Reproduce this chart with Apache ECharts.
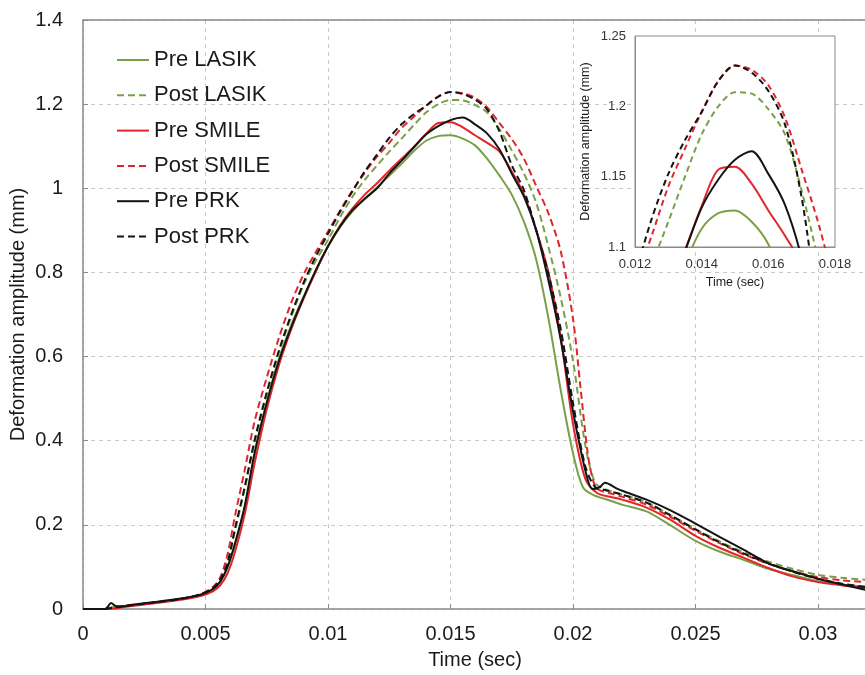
<!DOCTYPE html>
<html><head><meta charset="utf-8">
<script src="https://cdn.jsdelivr.net/npm/echarts@6/dist/echarts.min.js"></script>
<style>html,body{margin:0;padding:0;background:#fff}#c{width:865px;height:675px}</style>
</head><body><div id="c"></div>
<script>
// ---------- data ----------
const seriesNames = ['Pre LASIK', 'Post LASIK', 'Pre SMILE', 'Post SMILE', 'Pre PRK', 'Post PRK'];
const xAxisName = 'Time (sec)';
const yAxisName = 'Deformation amplitude (mm)';

const preLasik = [[0,0],[0.0009,0],[0.0012,0.004],[0.002,0.009],[0.003,0.016],[0.004,0.024],[0.0048,0.034],[0.0053,0.048],[0.0056,0.065],[0.0059,0.1],[0.0062,0.152],[0.0066,0.24],[0.007,0.365],[0.0075,0.49],[0.008,0.595],[0.0085,0.675],[0.009,0.742],[0.0095,0.805],[0.01,0.862],[0.0105,0.908],[0.011,0.945],[0.0115,0.975],[0.012,1.002],[0.0125,1.03],[0.013,1.058],[0.0135,1.088],[0.014,1.113],[0.0145,1.124],[0.015,1.126],[0.0155,1.118],[0.016,1.102],[0.0165,1.07],[0.017,1.03],[0.0175,0.985],[0.018,0.92],[0.0185,0.83],[0.019,0.69],[0.0195,0.52],[0.02,0.37],[0.0204,0.29],[0.0208,0.272],[0.0215,0.258],[0.022,0.248],[0.023,0.232],[0.024,0.198],[0.025,0.162],[0.026,0.136],[0.027,0.116],[0.028,0.095],[0.029,0.08],[0.03,0.066],[0.031,0.058],[0.032,0.052]];

const postLasik = [[0,0],[0.0009,0],[0.0012,0.003],[0.002,0.009],[0.003,0.016],[0.004,0.024],[0.0048,0.035],[0.0053,0.05],[0.0056,0.07],[0.0059,0.11],[0.0062,0.185],[0.0066,0.285],[0.007,0.395],[0.0075,0.51],[0.008,0.61],[0.0085,0.695],[0.009,0.77],[0.0095,0.828],[0.01,0.877],[0.0105,0.932],[0.011,0.98],[0.0115,1.02],[0.012,1.054],[0.0125,1.087],[0.013,1.118],[0.0135,1.15],[0.014,1.18],[0.0145,1.2],[0.015,1.21],[0.0155,1.209],[0.016,1.198],[0.0165,1.18],[0.017,1.14],[0.0175,1.09],[0.018,1.035],[0.0185,0.965],[0.019,0.86],[0.0195,0.74],[0.02,0.59],[0.0205,0.39],[0.0209,0.3],[0.0213,0.285],[0.022,0.272],[0.023,0.253],[0.024,0.222],[0.025,0.19],[0.026,0.16],[0.027,0.134],[0.028,0.112],[0.029,0.095],[0.03,0.081],[0.031,0.074],[0.032,0.069]];

const preSmile = [[0,0],[0.001,0],[0.0015,0.003],[0.002,0.007],[0.003,0.014],[0.004,0.022],[0.0048,0.031],[0.0053,0.042],[0.0056,0.056],[0.0059,0.085],[0.0062,0.135],[0.0066,0.225],[0.007,0.345],[0.0075,0.475],[0.008,0.58],[0.0085,0.665],[0.009,0.737],[0.0095,0.802],[0.01,0.862],[0.0105,0.912],[0.011,0.952],[0.0115,0.985],[0.012,1.012],[0.0125,1.042],[0.013,1.07],[0.0135,1.098],[0.014,1.129],[0.0145,1.155],[0.015,1.157],[0.0155,1.145],[0.016,1.126],[0.0165,1.108],[0.017,1.087],[0.0175,1.04],[0.018,0.985],[0.0185,0.9],[0.019,0.8],[0.0195,0.645],[0.02,0.44],[0.0205,0.31],[0.021,0.275],[0.0215,0.267],[0.022,0.26],[0.023,0.241],[0.024,0.211],[0.025,0.174],[0.026,0.145],[0.027,0.121],[0.028,0.097],[0.029,0.077],[0.03,0.064],[0.031,0.056],[0.032,0.05]];

const postSmile = [[0,0],[0.0009,0],[0.0012,0.003],[0.002,0.009],[0.003,0.016],[0.004,0.024],[0.0048,0.035],[0.0053,0.052],[0.0056,0.075],[0.0059,0.13],[0.0062,0.22],[0.0066,0.33],[0.007,0.445],[0.0075,0.55],[0.008,0.645],[0.0085,0.728],[0.009,0.795],[0.0095,0.848],[0.01,0.897],[0.0105,0.948],[0.011,0.995],[0.0115,1.037],[0.012,1.075],[0.0125,1.108],[0.013,1.143],[0.0135,1.17],[0.014,1.196],[0.0145,1.218],[0.015,1.229],[0.0155,1.226],[0.016,1.215],[0.0165,1.192],[0.017,1.155],[0.0175,1.117],[0.018,1.07],[0.0185,1.005],[0.019,0.94],[0.0195,0.85],[0.02,0.69],[0.0203,0.53],[0.0206,0.37],[0.0208,0.31],[0.021,0.285],[0.0215,0.275],[0.022,0.267],[0.023,0.248],[0.024,0.218],[0.025,0.186],[0.026,0.156],[0.027,0.129],[0.028,0.107],[0.029,0.089],[0.03,0.076],[0.031,0.068],[0.032,0.064]];

const prePrk = [[0,0],[0.0009,0],[0.00115,0.014],[0.0013,0.008],[0.0015,0.006],[0.002,0.01],[0.003,0.017],[0.004,0.025],[0.0048,0.034],[0.0053,0.047],[0.0056,0.065],[0.0059,0.1],[0.0062,0.155],[0.0066,0.245],[0.007,0.37],[0.0075,0.49],[0.008,0.59],[0.0085,0.67],[0.009,0.74],[0.0095,0.805],[0.01,0.862],[0.0105,0.91],[0.011,0.948],[0.0115,0.975],[0.012,1.0],[0.0125,1.035],[0.013,1.065],[0.0135,1.097],[0.014,1.128],[0.0145,1.148],[0.015,1.162],[0.0155,1.168],[0.016,1.152],[0.0165,1.13],[0.017,1.092],[0.0175,1.035],[0.018,0.98],[0.0185,0.9],[0.019,0.78],[0.0195,0.64],[0.02,0.47],[0.0205,0.33],[0.0208,0.285],[0.0211,0.29],[0.0213,0.3],[0.0218,0.286],[0.022,0.281],[0.023,0.26],[0.024,0.234],[0.025,0.203],[0.026,0.171],[0.027,0.14],[0.028,0.108],[0.029,0.089],[0.03,0.072],[0.031,0.058],[0.032,0.045]];

const postPrk = [[0,0],[0.0009,0],[0.0012,0.003],[0.002,0.009],[0.003,0.016],[0.004,0.024],[0.0048,0.035],[0.0053,0.05],[0.0056,0.07],[0.0059,0.11],[0.0062,0.19],[0.0066,0.29],[0.007,0.4],[0.0075,0.515],[0.008,0.615],[0.0085,0.7],[0.009,0.775],[0.0095,0.838],[0.01,0.892],[0.0105,0.945],[0.011,0.993],[0.0115,1.04],[0.012,1.08],[0.0125,1.12],[0.013,1.152],[0.0135,1.176],[0.014,1.196],[0.0145,1.218],[0.015,1.229],[0.0155,1.224],[0.016,1.211],[0.0165,1.187],[0.017,1.135],[0.0175,1.055],[0.018,0.995],[0.0185,0.9],[0.019,0.795],[0.0195,0.665],[0.02,0.49],[0.0205,0.34],[0.0209,0.29],[0.0213,0.283],[0.022,0.272],[0.023,0.253],[0.024,0.222],[0.025,0.189],[0.026,0.158],[0.027,0.131],[0.028,0.108],[0.029,0.088],[0.03,0.072],[0.031,0.06],[0.032,0.052]];

const seriesData = [preLasik, postLasik, preSmile, postSmile, prePrk, postPrk];
const seriesColors = ['#7aa046', '#7aa046', '#e0262a', '#e0262a', '#141414', '#141414'];
const seriesDashed = [false, true, false, true, false, true];

// ---------- chart ----------
const chart = echarts.init(document.getElementById('c'), null, {renderer: 'canvas'});
const FONT = 'Liberation Sans, Arial, sans-serif';
const axisGray = '#8a8a8a';
const gridGray = '#c9c9c9';

const series = [];
seriesData.forEach((d, i) => {
  const style = {color: seriesColors[i], width: 2, type: seriesDashed[i] ? [7, 4] : 'solid'};
  series.push({name: seriesNames[i], type: 'line', xAxisIndex: 0, yAxisIndex: 0, data: d,
    showSymbol: false, symbol: 'none', smooth: 0.3, lineStyle: style,
    itemStyle: {color: seriesColors[i]}, z: 2, animation: false});
});
seriesData.forEach((d, i) => {
  const style = {color: seriesColors[i], width: 2, type: seriesDashed[i] ? [6, 4] : 'solid'};
  series.push({name: seriesNames[i], type: 'line', xAxisIndex: 2, yAxisIndex: 1, data: d,
    showSymbol: false, symbol: 'none', smooth: 0.3, lineStyle: style,
    itemStyle: {color: seriesColors[i]}, z: 6, clip: true, animation: false});
});

const option = {
  animation: false,
  backgroundColor: '#fff',
  textStyle: {fontFamily: FONT},
  grid: [
    {left: 83, top: 20, right: -2, bottom: 66, containLabel: false, outerBoundsMode: 'none'},
    {left: 635, top: 36, width: 200, height: 211, show: true, backgroundColor: '#fff',
     borderColor: axisGray, borderWidth: 1, z: 4, outerBoundsMode: 'none'}
  ],
  legend: {
    data: seriesNames, orient: 'vertical', left: 116, top: 49, padding: 0,
    itemWidth: 32, itemHeight: 14, itemGap: 13.3,
    itemStyle: {opacity: 0},
    textStyle: {fontSize: 22, color: '#1a1a1a', fontFamily: FONT}
  },
  xAxis: [
    {type: 'value', gridIndex: 0, min: 0, max: 0.032, interval: 0.005,
     name: xAxisName, nameLocation: 'middle', nameGap: 41, nameMoveOverlap: false,
     nameTextStyle: {fontSize: 20, color: '#1a1a1a'},
     axisLine: {show: true, lineStyle: {color: axisGray, width: 1.5}},
     axisTick: {show: true, inside: true, length: 5, lineStyle: {color: axisGray}},
     axisLabel: {fontSize: 20, color: '#1a1a1a', margin: 15, showMaxLabel: false},
     splitLine: {show: true, showMaxLine: false, lineStyle: {color: gridGray, type: [4, 4]}}},
    {type: 'value', gridIndex: 0, position: 'top', min: 0, max: 0.032,
     axisLine: {show: true, lineStyle: {color: axisGray, width: 1.5}},
     axisTick: {show: false}, axisLabel: {show: false}, splitLine: {show: false}},
    {type: 'value', gridIndex: 1, min: 0.012, max: 0.018, interval: 0.002, z: 5,
     name: xAxisName, nameLocation: 'middle', nameGap: 29, nameMoveOverlap: false,
     nameTextStyle: {fontSize: 12.5, color: '#1a1a1a'},
     axisLine: {show: true, lineStyle: {color: axisGray, width: 1}},
     axisTick: {show: false},
     axisLabel: {fontSize: 13, color: '#333', margin: 11},
     splitLine: {show: false}}
  ],
  yAxis: [
    {type: 'value', gridIndex: 0, min: 0, max: 1.4, interval: 0.2,
     name: yAxisName, nameLocation: 'middle', nameGap: 55, nameMoveOverlap: false,
     nameTextStyle: {fontSize: 20, color: '#1a1a1a'},
     axisLine: {show: true, lineStyle: {color: axisGray, width: 1.5}},
     axisTick: {show: true, inside: true, length: 5, lineStyle: {color: axisGray}},
     axisLabel: {fontSize: 20, color: '#1a1a1a', margin: 20},
     splitLine: {show: true, lineStyle: {color: gridGray, type: [4, 4]}}},
    {type: 'value', gridIndex: 1, min: 1.1, max: 1.25, interval: 0.05, z: 5,
     name: yAxisName, nameLocation: 'middle', nameGap: 43, nameMoveOverlap: false,
     nameTextStyle: {fontSize: 12.5, color: '#1a1a1a'},
     axisLine: {show: true, lineStyle: {color: axisGray, width: 1}},
     axisTick: {show: false},
     axisLabel: {fontSize: 13, color: '#333', margin: 9},
     splitLine: {show: false}}
  ],
  series: series
};
chart.setOption(option);
</script>
</body></html>
